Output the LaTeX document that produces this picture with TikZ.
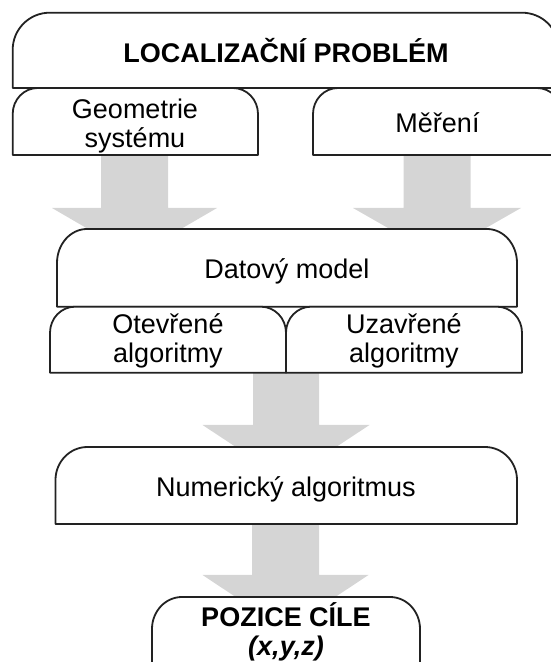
\documentclass[tikz,border=0pt]{standalone}
\usepackage{fontspec}
\setmainfont{Liberation Sans}
\usetikzlibrary{calc}
\definecolor{linecol}{HTML}{222222}
\definecolor{arrowcol}{HTML}{D5D5D5}
\tikzset{
  boxline/.style={draw=linecol, line width=1.8pt, fill=white, line join=round},
  arrowfill/.style={fill=arrowcol, draw=none},
  lbl/.style={font=\fontsize{27}{29.5}\selectfont, align=center, inner sep=0pt, anchor=base},
  blbl/.style={lbl, font=\fontsize{27}{29.5}\selectfont\bfseries}
}
% #1 left, #2 right, #3 top, #4 bottom, #5 x radius, #6 y radius
\newcommand\rtbox[6]{%
  \draw[boxline] (#1,#4) -- (#1,#3-#6)
    arc[start angle=180,end angle=90,x radius=#5,y radius=#6]
    -- (#2-#5,#3)
    arc[start angle=90,end angle=0,x radius=#5,y radius=#6]
    -- (#2,#4) -- cycle;}
% #1 centre x, #2 shaft half width, #3 shaft top, #4 head y, #5 head half width, #6 tip y
\newcommand\blockarr[6]{%
  \fill[arrowfill] (#1-#2,#3) -- (#1-#2,#4) -- (#1-#5,#4) -- (#1,#6)
    -- (#1+#5,#4) -- (#1+#2,#4) -- (#1+#2,#3) -- cycle;}
\begin{document}
\begin{tikzpicture}[x=1pt,y=1pt]
\useasboundingbox (0,0) rectangle (551,662);
\clip (0,0) rectangle (551,662);
% block arrows (drawn first, boxes cover their tips)
\blockarr{134.5}{33.5}{507}{454}{82.5}{406}
\blockarr{437}{33.5}{507}{454}{84}{406}
\blockarr{286}{33}{289.3}{237}{83.5}{182}
\blockarr{285.5}{33.5}{138}{87}{83}{32}
% boxes
\rtbox{12.7}{559}{649.3}{574}{37}{37}
\rtbox{12.7}{258}{574}{507}{25}{26}
\rtbox{313}{562}{574}{507}{25}{26}
\rtbox{57}{517}{433}{355.3}{30}{34}
\rtbox{50}{286}{355.3}{289.3}{25}{26}
\rtbox{286}{522}{355.3}{289.3}{25}{26}
\rtbox{55.5}{517}{215}{138}{32}{33}
\rtbox{152}{420}{65}{-20}{30}{32}
% labels (multi-line nodes: base anchor is the last line's baseline)
\node[blbl] (title) at (286,599.3) {LOCALIZAČNÍ PROBLÉM};
\node[lbl] (geom) at (135,514) {Geometrie\\systému};
\node[lbl] (mer) at (437.5,529) {Měření};
\node[lbl] (dat) at (287,383) {Datový model};
\node[lbl] (otev) at (168,299.3) {Otevřené\\algoritmy};
\node[lbl] (uzav) at (404,299.3) {Uzavřené\\algoritmy};
\node[lbl] (num) at (286,165.3) {Numerický algoritmus};
\node[blbl] (poz) at (286,6) {POZICE CÍLE\\\textit{(x,y,z)}};
\end{tikzpicture}
\end{document}
